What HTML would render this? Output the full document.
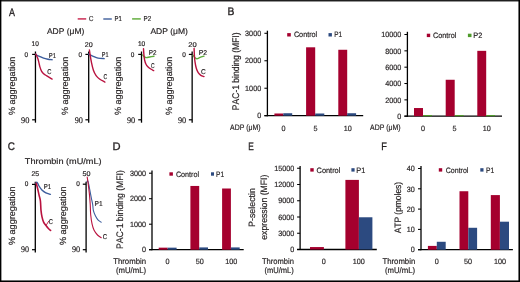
<!DOCTYPE html>
<html><head><meta charset="utf-8"><style>
html,body{margin:0;padding:0;background:#fff;}
svg{display:block;font-family:"Liberation Sans", sans-serif;will-change:transform;text-rendering:geometricPrecision;font-kerning:none;}
text{stroke:#231f20;stroke-width:0.18px;}
</style></head><body>
<svg width="520" height="282" viewBox="0 0 520 282">
<rect width="520" height="282" fill="#fff"/>
<rect x="0.00" y="0.00" width="520.00" height="1.47" fill="#1f1f1f"/>
<rect x="0.00" y="0.00" width="1.38" height="282.00" fill="#000"/>
<rect x="518.45" y="0.00" width="1.55" height="282.00" fill="#000"/>
<rect x="0.00" y="280.45" width="520.00" height="1.55" fill="#000"/>
<text x="8.93" y="15.90" font-size="11" textLength="5.93" lengthAdjust="spacingAndGlyphs" fill="#231f20" style="stroke-width:0.32px">A</text>
<text x="227.50" y="15.40" font-size="11" textLength="6.89" lengthAdjust="spacingAndGlyphs" fill="#231f20" style="stroke-width:0.32px">B</text>
<text x="7.84" y="150.40" font-size="11" textLength="7.18" lengthAdjust="spacingAndGlyphs" fill="#231f20" style="stroke-width:0.32px">C</text>
<text x="112.44" y="150.40" font-size="11" textLength="8.05" lengthAdjust="spacingAndGlyphs" fill="#231f20" style="stroke-width:0.32px">D</text>
<text x="248.37" y="150.10" font-size="11" textLength="5.54" lengthAdjust="spacingAndGlyphs" fill="#231f20" style="stroke-width:0.32px">E</text>
<text x="381.29" y="150.40" font-size="11" textLength="5.62" lengthAdjust="spacingAndGlyphs" fill="#231f20" style="stroke-width:0.32px">F</text>
<line x1="77.70" y1="18.90" x2="86.20" y2="18.90" stroke="#cf3b60" stroke-width="1.6"/>
<text x="89.04" y="21.30" font-size="7.2" textLength="4.45" lengthAdjust="spacingAndGlyphs" fill="#231f20">C</text>
<line x1="103.30" y1="19.00" x2="111.80" y2="19.00" stroke="#5672a8" stroke-width="1.6"/>
<text x="114.56" y="21.20" font-size="7.2" textLength="7.28" lengthAdjust="spacingAndGlyphs" fill="#231f20">P1</text>
<line x1="132.10" y1="18.90" x2="140.80" y2="18.90" stroke="#6fb44d" stroke-width="1.6"/>
<text x="143.54" y="21.10" font-size="7.2" textLength="7.62" lengthAdjust="spacingAndGlyphs" fill="#231f20">P2</text>
<text x="46.93" y="34.00" font-size="8.3" textLength="37.34" lengthAdjust="spacingAndGlyphs" fill="#231f20">ADP (μM)</text>
<text x="150.43" y="33.70" font-size="8.3" textLength="37.54" lengthAdjust="spacingAndGlyphs" fill="#231f20">ADP (μM)</text>
<line x1="35.45" y1="51.50" x2="35.45" y2="122.70" stroke="#000" stroke-width="1.3"/>
<line x1="32.15" y1="54.40" x2="35.45" y2="54.40" stroke="#000" stroke-width="1.2"/>
<line x1="32.15" y1="119.80" x2="35.45" y2="119.80" stroke="#000" stroke-width="1.2"/>
<text x="31.55" y="46.30" font-size="6.8" textLength="7.25" lengthAdjust="spacingAndGlyphs" fill="#231f20">10</text>
<text x="24.60" y="56.60" font-size="6.8" textLength="3.59" lengthAdjust="spacingAndGlyphs" fill="#231f20">0</text>
<text x="20.98" y="122.50" font-size="8.6" textLength="8.39" lengthAdjust="spacingAndGlyphs" fill="#231f20" font-family="Liberation Serif, serif">90</text>
<text x="14.68" y="114.75" font-size="9" textLength="58.31" lengthAdjust="spacingAndGlyphs" fill="#231f20" transform="rotate(-90 15.00 114.75)">% aggregation</text>
<line x1="88.70" y1="51.50" x2="88.70" y2="122.70" stroke="#000" stroke-width="1.3"/>
<line x1="85.40" y1="54.40" x2="88.70" y2="54.40" stroke="#000" stroke-width="1.2"/>
<line x1="85.40" y1="119.80" x2="88.70" y2="119.80" stroke="#000" stroke-width="1.2"/>
<text x="84.89" y="46.50" font-size="6.8" textLength="7.94" lengthAdjust="spacingAndGlyphs" fill="#231f20">20</text>
<text x="78.50" y="56.60" font-size="6.8" textLength="3.59" lengthAdjust="spacingAndGlyphs" fill="#231f20">0</text>
<text x="74.68" y="122.50" font-size="8.6" textLength="8.28" lengthAdjust="spacingAndGlyphs" fill="#231f20" font-family="Liberation Serif, serif">90</text>
<text x="67.98" y="114.75" font-size="9" textLength="58.31" lengthAdjust="spacingAndGlyphs" fill="#231f20" transform="rotate(-90 68.30 114.75)">% aggregation</text>
<line x1="141.50" y1="51.50" x2="141.50" y2="122.70" stroke="#000" stroke-width="1.3"/>
<line x1="138.20" y1="54.40" x2="141.50" y2="54.40" stroke="#000" stroke-width="1.2"/>
<line x1="138.20" y1="119.80" x2="141.50" y2="119.80" stroke="#000" stroke-width="1.2"/>
<text x="137.95" y="46.40" font-size="6.8" textLength="7.36" lengthAdjust="spacingAndGlyphs" fill="#231f20">10</text>
<text x="130.80" y="56.60" font-size="6.8" textLength="3.59" lengthAdjust="spacingAndGlyphs" fill="#231f20">0</text>
<text x="126.98" y="122.50" font-size="8.6" textLength="8.28" lengthAdjust="spacingAndGlyphs" fill="#231f20" font-family="Liberation Serif, serif">90</text>
<text x="120.78" y="114.75" font-size="9" textLength="58.31" lengthAdjust="spacingAndGlyphs" fill="#231f20" transform="rotate(-90 121.10 114.75)">% aggregation</text>
<line x1="192.15" y1="51.50" x2="192.15" y2="122.70" stroke="#000" stroke-width="1.3"/>
<line x1="188.85" y1="54.40" x2="192.15" y2="54.40" stroke="#000" stroke-width="1.2"/>
<line x1="188.85" y1="119.80" x2="192.15" y2="119.80" stroke="#000" stroke-width="1.2"/>
<text x="188.37" y="46.50" font-size="6.8" textLength="8.43" lengthAdjust="spacingAndGlyphs" fill="#231f20">20</text>
<text x="182.20" y="56.60" font-size="6.8" textLength="3.59" lengthAdjust="spacingAndGlyphs" fill="#231f20">0</text>
<text x="177.98" y="122.50" font-size="8.6" textLength="8.28" lengthAdjust="spacingAndGlyphs" fill="#231f20" font-family="Liberation Serif, serif">90</text>
<text x="171.38" y="114.75" font-size="9" textLength="58.31" lengthAdjust="spacingAndGlyphs" fill="#231f20" transform="rotate(-90 171.70 114.75)">% aggregation</text>
<path d="M35.70,54.20 C35.92,54.38 36.38,54.95 37.00,55.30 C37.62,55.65 38.30,55.82 39.40,56.30 C40.50,56.78 42.18,57.72 43.60,58.20 C45.02,58.68 46.48,58.95 47.90,59.20 C49.32,59.45 51.40,59.62 52.10,59.70" fill="none" stroke="#3b5c9c" stroke-width="1.4" stroke-linecap="round" stroke-linejoin="round"/>
<path d="M35.80,54.10 C36.13,54.82 37.28,56.98 37.80,58.40 C38.32,59.82 38.55,61.18 38.90,62.60 C39.25,64.02 39.47,65.48 39.90,66.90 C40.33,68.32 40.88,69.95 41.50,71.10 C42.12,72.25 42.72,73.00 43.60,73.80 C44.48,74.60 45.38,75.02 46.80,75.90 C48.22,76.78 51.22,78.57 52.10,79.10" fill="none" stroke="#b9123f" stroke-width="1.4" stroke-linecap="round" stroke-linejoin="round"/>
<text x="48.87" y="57.80" font-size="7.0" textLength="7.17" lengthAdjust="spacingAndGlyphs" fill="#231f20">P1</text>
<text x="47.15" y="74.30" font-size="7.0" textLength="4.22" lengthAdjust="spacingAndGlyphs" fill="#231f20">C</text>
<path d="M88.80,54.10 C89.08,54.28 89.85,54.87 90.50,55.20 C91.15,55.53 91.43,55.62 92.70,56.10 C93.97,56.58 96.18,57.68 98.10,58.10 C100.02,58.52 103.18,58.52 104.20,58.60" fill="none" stroke="#3b5c9c" stroke-width="1.4" stroke-linecap="round" stroke-linejoin="round"/>
<path d="M89.40,50.00 C89.50,50.68 89.67,52.07 90.00,54.10 C90.33,56.13 90.83,59.50 91.40,62.20 C91.97,64.90 92.62,68.07 93.40,70.30 C94.18,72.53 95.08,74.15 96.10,75.60 C97.12,77.05 98.03,77.92 99.50,79.00 C100.97,80.08 104.00,81.58 104.90,82.10" fill="none" stroke="#b9123f" stroke-width="1.4" stroke-linecap="round" stroke-linejoin="round"/>
<text x="101.80" y="56.60" font-size="7.0" textLength="6.72" lengthAdjust="spacingAndGlyphs" fill="#231f20">P1</text>
<text x="103.49" y="79.30" font-size="7.0" textLength="3.76" lengthAdjust="spacingAndGlyphs" fill="#231f20">C</text>
<path d="M142.60,55.00 C142.90,55.30 143.75,56.37 144.40,56.80 C145.05,57.23 145.62,57.57 146.50,57.60 C147.38,57.63 148.45,57.23 149.70,57.00 C150.95,56.77 153.28,56.33 154.00,56.20" fill="none" stroke="#5dab3b" stroke-width="1.4" stroke-linecap="round" stroke-linejoin="round"/>
<path d="M143.50,48.80 C143.57,49.77 143.72,52.73 143.90,54.60 C144.08,56.47 144.25,58.40 144.60,60.00 C144.95,61.60 145.42,63.05 146.00,64.20 C146.58,65.35 147.30,66.10 148.10,66.90 C148.90,67.70 149.87,68.38 150.80,69.00 C151.73,69.62 153.22,70.33 153.70,70.60" fill="none" stroke="#b9123f" stroke-width="1.4" stroke-linecap="round" stroke-linejoin="round"/>
<text x="148.73" y="54.70" font-size="7.0" textLength="7.74" lengthAdjust="spacingAndGlyphs" fill="#231f20">P2</text>
<text x="150.99" y="67.70" font-size="7.0" textLength="3.65" lengthAdjust="spacingAndGlyphs" fill="#231f20">C</text>
<path d="M193.20,55.30 C193.50,55.72 194.38,57.23 195.00,57.80 C195.62,58.37 196.05,58.77 196.90,58.70 C197.75,58.63 198.92,57.83 200.10,57.40 C201.28,56.97 203.35,56.32 204.00,56.10" fill="none" stroke="#5dab3b" stroke-width="1.4" stroke-linecap="round" stroke-linejoin="round"/>
<path d="M194.10,48.50 C194.15,49.67 194.25,53.27 194.40,55.50 C194.55,57.73 194.68,59.77 195.00,61.90 C195.32,64.03 195.77,66.50 196.30,68.30 C196.83,70.10 197.45,71.53 198.20,72.70 C198.95,73.87 199.83,74.65 200.80,75.30 C201.77,75.95 203.47,76.38 204.00,76.60" fill="none" stroke="#b9123f" stroke-width="1.4" stroke-linecap="round" stroke-linejoin="round"/>
<text x="198.79" y="54.90" font-size="7.0" textLength="8.41" lengthAdjust="spacingAndGlyphs" fill="#231f20">P2</text>
<text x="200.91" y="73.70" font-size="7.0" textLength="4.79" lengthAdjust="spacingAndGlyphs" fill="#231f20">C</text>
<text x="24.84" y="163.70" font-size="8.3" textLength="76.77" lengthAdjust="spacingAndGlyphs" fill="#231f20">Thrombin (mU/mL)</text>
<line x1="35.30" y1="181.70" x2="35.30" y2="252.60" stroke="#000" stroke-width="1.3"/>
<line x1="32.00" y1="184.40" x2="35.30" y2="184.40" stroke="#000" stroke-width="1.2"/>
<line x1="32.00" y1="249.70" x2="35.30" y2="249.70" stroke="#000" stroke-width="1.2"/>
<text x="31.40" y="176.30" font-size="6.8" textLength="7.63" lengthAdjust="spacingAndGlyphs" fill="#231f20">25</text>
<text x="24.80" y="186.40" font-size="6.8" textLength="3.59" lengthAdjust="spacingAndGlyphs" fill="#231f20">0</text>
<text x="21.09" y="252.30" font-size="8.6" textLength="8.07" lengthAdjust="spacingAndGlyphs" fill="#231f20" font-family="Liberation Serif, serif">90</text>
<text x="15.08" y="244.75" font-size="9" textLength="58.72" lengthAdjust="spacingAndGlyphs" fill="#231f20" transform="rotate(-90 15.40 244.75)">% aggregation</text>
<line x1="86.10" y1="181.70" x2="86.10" y2="252.60" stroke="#000" stroke-width="1.3"/>
<line x1="82.80" y1="184.20" x2="86.10" y2="184.20" stroke="#000" stroke-width="1.2"/>
<line x1="82.80" y1="249.70" x2="86.10" y2="249.70" stroke="#000" stroke-width="1.2"/>
<text x="82.46" y="176.30" font-size="6.8" textLength="7.97" lengthAdjust="spacingAndGlyphs" fill="#231f20">50</text>
<text x="76.20" y="186.40" font-size="6.8" textLength="3.59" lengthAdjust="spacingAndGlyphs" fill="#231f20">0</text>
<text x="71.98" y="252.40" font-size="8.6" textLength="8.28" lengthAdjust="spacingAndGlyphs" fill="#231f20" font-family="Liberation Serif, serif">90</text>
<text x="65.38" y="244.75" font-size="9" textLength="58.72" lengthAdjust="spacingAndGlyphs" fill="#231f20" transform="rotate(-90 65.70 244.75)">% aggregation</text>
<path d="M35.80,183.20 C36.03,183.07 36.67,181.93 37.20,182.40 C37.73,182.87 38.22,184.75 39.00,186.00 C39.78,187.25 40.75,188.75 41.90,189.90 C43.05,191.05 44.48,192.15 45.90,192.90 C47.32,193.65 49.65,194.15 50.40,194.40" fill="none" stroke="#3b5c9c" stroke-width="1.4" stroke-linecap="round" stroke-linejoin="round"/>
<path d="M36.20,183.20 C36.42,184.00 37.03,186.05 37.50,188.00 C37.97,189.95 38.52,192.77 39.00,194.90 C39.48,197.03 40.07,198.22 40.40,200.80 C40.73,203.38 40.73,207.73 41.00,210.40 C41.27,213.07 41.57,214.85 42.00,216.80 C42.43,218.75 42.97,220.68 43.60,222.10 C44.23,223.52 45.00,224.23 45.80,225.30 C46.60,226.37 47.60,227.65 48.40,228.50 C49.20,229.35 50.23,230.08 50.60,230.40" fill="none" stroke="#b9123f" stroke-width="1.6" stroke-linecap="round" stroke-linejoin="round"/>
<path d="M44.6,223.6 L46.2,225.2 L48.7,221.2" fill="none" stroke="#b9123f" stroke-width="0.9" stroke-linecap="round" stroke-linejoin="round"/>
<text x="43.75" y="189.00" font-size="7.0" textLength="7.39" lengthAdjust="spacingAndGlyphs" fill="#231f20">P1</text>
<text x="48.75" y="223.90" font-size="7.0" textLength="4.22" lengthAdjust="spacingAndGlyphs" fill="#231f20">C</text>
<path d="M87.00,181.50 C87.12,181.38 87.40,180.30 87.70,180.80 C88.00,181.30 88.38,182.63 88.80,184.50 C89.22,186.37 89.77,189.70 90.20,192.00 C90.63,194.30 90.98,196.18 91.40,198.30 C91.82,200.42 92.37,202.63 92.70,204.70 C93.03,206.77 92.93,208.80 93.40,210.70 C93.87,212.60 94.70,214.52 95.50,216.10 C96.30,217.68 97.25,219.18 98.20,220.20 C99.15,221.22 100.70,221.87 101.20,222.20" fill="none" stroke="#3b5c9c" stroke-width="1.1" stroke-linecap="round" stroke-linejoin="round"/>
<path d="M87.20,177.00 C87.33,177.90 87.73,180.43 88.00,182.40 C88.27,184.37 88.55,186.68 88.80,188.80 C89.05,190.92 89.27,192.57 89.50,195.10 C89.73,197.63 90.00,200.72 90.20,204.00 C90.40,207.28 90.38,211.43 90.70,214.80 C91.02,218.17 91.53,221.62 92.10,224.20 C92.67,226.78 93.20,228.50 94.10,230.30 C95.00,232.10 96.32,233.77 97.50,235.00 C98.68,236.23 100.58,237.25 101.20,237.70" fill="none" stroke="#b9123f" stroke-width="1.1" stroke-linecap="round" stroke-linejoin="round"/>
<text x="94.61" y="205.70" font-size="7.0" textLength="8.06" lengthAdjust="spacingAndGlyphs" fill="#231f20">P1</text>
<text x="102.64" y="239.10" font-size="7.0" textLength="4.45" lengthAdjust="spacingAndGlyphs" fill="#231f20">C</text>
<line x1="267.40" y1="30.70" x2="267.40" y2="116.30" stroke="#000" stroke-width="1.3"/>
<line x1="264.40" y1="115.70" x2="363.20" y2="115.70" stroke="#000" stroke-width="1.3"/>
<line x1="264.40" y1="115.70" x2="267.40" y2="115.70" stroke="#000" stroke-width="1.05"/>
<text x="257.17" y="118.40" font-size="7.6" textLength="4.02" lengthAdjust="spacingAndGlyphs" fill="#231f20">0</text>
<line x1="264.40" y1="88.23" x2="267.40" y2="88.23" stroke="#000" stroke-width="1.05"/>
<text x="245.12" y="90.93" font-size="7.6" textLength="16.06" lengthAdjust="spacingAndGlyphs" fill="#231f20">1000</text>
<line x1="264.40" y1="60.76" x2="267.40" y2="60.76" stroke="#000" stroke-width="1.05"/>
<text x="245.12" y="63.46" font-size="7.6" textLength="16.06" lengthAdjust="spacingAndGlyphs" fill="#231f20">2000</text>
<line x1="264.40" y1="33.29" x2="267.40" y2="33.29" stroke="#000" stroke-width="1.05"/>
<text x="245.12" y="35.99" font-size="7.6" textLength="16.06" lengthAdjust="spacingAndGlyphs" fill="#231f20">3000</text>
<rect x="274.40" y="113.50" width="8.90" height="2.20" fill="#a5002e"/>
<rect x="283.30" y="113.23" width="8.90" height="2.47" fill="#2c4a80"/>
<rect x="306.10" y="47.30" width="9.10" height="68.40" fill="#a5002e"/>
<rect x="315.20" y="113.50" width="9.10" height="2.20" fill="#2c4a80"/>
<rect x="338.30" y="49.77" width="8.90" height="65.93" fill="#a5002e"/>
<rect x="347.20" y="113.23" width="8.90" height="2.47" fill="#2c4a80"/>
<text x="281.49" y="130.90" font-size="7.6" textLength="4.02" lengthAdjust="spacingAndGlyphs" fill="#231f20">0</text>
<text x="313.50" y="130.90" font-size="7.6" textLength="4.02" lengthAdjust="spacingAndGlyphs" fill="#231f20">5</text>
<text x="343.75" y="130.90" font-size="7.6" textLength="8.03" lengthAdjust="spacingAndGlyphs" fill="#231f20">10</text>
<text x="230.04" y="130.30" font-size="8.0" textLength="30.54" lengthAdjust="spacingAndGlyphs" fill="#231f20">ADP (μM)</text>
<text x="238.50" y="109.45" font-size="9.7" textLength="77.73" lengthAdjust="spacingAndGlyphs" fill="#231f20" transform="rotate(-90 239.20 109.45)">PAC-1 binding (MFI)</text>
<rect x="287.20" y="33.10" width="3.60" height="3.40" fill="#a5002e"/>
<text x="293.88" y="37.10" font-size="7.8" textLength="23.35" lengthAdjust="spacingAndGlyphs" fill="#231f20">Control</text>
<rect x="328.50" y="33.10" width="3.40" height="3.40" fill="#2c4a80"/>
<text x="334.22" y="37.10" font-size="7.8" textLength="7.84" lengthAdjust="spacingAndGlyphs" fill="#231f20">P1</text>
<line x1="407.40" y1="31.80" x2="407.40" y2="116.80" stroke="#000" stroke-width="1.3"/>
<line x1="404.40" y1="116.20" x2="502.00" y2="116.20" stroke="#000" stroke-width="1.3"/>
<line x1="404.40" y1="116.20" x2="407.40" y2="116.20" stroke="#000" stroke-width="1.05"/>
<text x="397.27" y="118.90" font-size="7.6" textLength="4.02" lengthAdjust="spacingAndGlyphs" fill="#231f20">0</text>
<line x1="404.40" y1="99.86" x2="407.40" y2="99.86" stroke="#000" stroke-width="1.05"/>
<text x="385.22" y="102.56" font-size="7.6" textLength="16.06" lengthAdjust="spacingAndGlyphs" fill="#231f20">2000</text>
<line x1="404.40" y1="83.52" x2="407.40" y2="83.52" stroke="#000" stroke-width="1.05"/>
<text x="385.22" y="86.22" font-size="7.6" textLength="16.06" lengthAdjust="spacingAndGlyphs" fill="#231f20">4000</text>
<line x1="404.40" y1="67.18" x2="407.40" y2="67.18" stroke="#000" stroke-width="1.05"/>
<text x="385.22" y="69.88" font-size="7.6" textLength="16.06" lengthAdjust="spacingAndGlyphs" fill="#231f20">6000</text>
<line x1="404.40" y1="50.84" x2="407.40" y2="50.84" stroke="#000" stroke-width="1.05"/>
<text x="385.22" y="53.54" font-size="7.6" textLength="16.06" lengthAdjust="spacingAndGlyphs" fill="#231f20">8000</text>
<line x1="404.40" y1="34.50" x2="407.40" y2="34.50" stroke="#000" stroke-width="1.05"/>
<text x="381.20" y="37.20" font-size="7.6" textLength="20.08" lengthAdjust="spacingAndGlyphs" fill="#231f20">10000</text>
<rect x="414.00" y="108.03" width="9.00" height="8.17" fill="#a5002e"/>
<rect x="423.00" y="115.06" width="9.00" height="1.14" fill="#4f9b2b"/>
<rect x="445.70" y="79.76" width="9.00" height="36.44" fill="#a5002e"/>
<rect x="454.70" y="115.06" width="9.00" height="1.14" fill="#4f9b2b"/>
<rect x="477.30" y="50.84" width="8.90" height="65.36" fill="#a5002e"/>
<rect x="486.20" y="115.06" width="8.90" height="1.14" fill="#4f9b2b"/>
<text x="421.04" y="131.30" font-size="7.6" textLength="4.02" lengthAdjust="spacingAndGlyphs" fill="#231f20">0</text>
<text x="452.55" y="131.30" font-size="7.6" textLength="4.02" lengthAdjust="spacingAndGlyphs" fill="#231f20">5</text>
<text x="482.75" y="131.30" font-size="7.6" textLength="8.03" lengthAdjust="spacingAndGlyphs" fill="#231f20">10</text>
<text x="370.04" y="130.30" font-size="8.0" textLength="30.54" lengthAdjust="spacingAndGlyphs" fill="#231f20">ADP (μM)</text>
<rect x="426.80" y="33.70" width="3.40" height="3.40" fill="#a5002e"/>
<text x="433.08" y="37.60" font-size="7.8" textLength="23.35" lengthAdjust="spacingAndGlyphs" fill="#231f20">Control</text>
<rect x="467.90" y="33.70" width="3.60" height="3.40" fill="#4f9b2b"/>
<text x="473.25" y="37.60" font-size="7.8" textLength="8.97" lengthAdjust="spacingAndGlyphs" fill="#231f20">P2</text>
<line x1="152.00" y1="170.50" x2="152.00" y2="250.30" stroke="#000" stroke-width="1.3"/>
<line x1="149.00" y1="249.70" x2="243.70" y2="249.70" stroke="#000" stroke-width="1.3"/>
<line x1="149.00" y1="249.70" x2="152.00" y2="249.70" stroke="#000" stroke-width="1.05"/>
<text x="142.07" y="252.40" font-size="7.6" textLength="4.02" lengthAdjust="spacingAndGlyphs" fill="#231f20">0</text>
<line x1="149.00" y1="224.20" x2="152.00" y2="224.20" stroke="#000" stroke-width="1.05"/>
<text x="130.02" y="226.90" font-size="7.6" textLength="16.06" lengthAdjust="spacingAndGlyphs" fill="#231f20">1000</text>
<line x1="149.00" y1="198.70" x2="152.00" y2="198.70" stroke="#000" stroke-width="1.05"/>
<text x="130.02" y="201.40" font-size="7.6" textLength="16.06" lengthAdjust="spacingAndGlyphs" fill="#231f20">2000</text>
<line x1="149.00" y1="173.20" x2="152.00" y2="173.20" stroke="#000" stroke-width="1.05"/>
<text x="130.02" y="175.90" font-size="7.6" textLength="16.06" lengthAdjust="spacingAndGlyphs" fill="#231f20">3000</text>
<rect x="158.70" y="247.66" width="8.95" height="2.04" fill="#a5002e"/>
<rect x="167.65" y="247.66" width="8.95" height="2.04" fill="#2c4a80"/>
<rect x="190.40" y="185.95" width="8.80" height="63.75" fill="#a5002e"/>
<rect x="199.20" y="247.41" width="8.80" height="2.29" fill="#2c4a80"/>
<rect x="222.10" y="188.50" width="8.80" height="61.20" fill="#a5002e"/>
<rect x="230.90" y="247.41" width="8.80" height="2.29" fill="#2c4a80"/>
<text x="165.49" y="263.80" font-size="7.6" textLength="4.02" lengthAdjust="spacingAndGlyphs" fill="#231f20">0</text>
<text x="195.68" y="263.80" font-size="7.6" textLength="8.03" lengthAdjust="spacingAndGlyphs" fill="#231f20">50</text>
<text x="225.24" y="263.80" font-size="7.6" textLength="12.05" lengthAdjust="spacingAndGlyphs" fill="#231f20">100</text>
<text x="113.17" y="263.80" font-size="8.2" textLength="32.98" lengthAdjust="spacingAndGlyphs" fill="#231f20">Thrombin</text>
<text x="115.97" y="272.90" font-size="8.2" textLength="30.16" lengthAdjust="spacingAndGlyphs" fill="#231f20">(mU/mL)</text>
<text x="122.29" y="248.35" font-size="9.5" textLength="78.95" lengthAdjust="spacingAndGlyphs" fill="#231f20" transform="rotate(-90 123.00 248.35)">PAC-1 binding (MFI)</text>
<rect x="169.40" y="172.30" width="3.50" height="3.40" fill="#a5002e"/>
<text x="175.89" y="176.60" font-size="7.8" textLength="23.14" lengthAdjust="spacingAndGlyphs" fill="#231f20">Control</text>
<rect x="211.00" y="172.30" width="3.00" height="3.40" fill="#2c4a80"/>
<text x="216.01" y="176.60" font-size="7.8" textLength="8.06" lengthAdjust="spacingAndGlyphs" fill="#231f20">P1</text>
<line x1="300.10" y1="166.00" x2="300.10" y2="250.10" stroke="#000" stroke-width="1.3"/>
<line x1="297.10" y1="249.50" x2="376.80" y2="249.50" stroke="#000" stroke-width="1.3"/>
<line x1="297.10" y1="249.50" x2="300.10" y2="249.50" stroke="#000" stroke-width="1.05"/>
<text x="290.27" y="252.20" font-size="7.6" textLength="4.02" lengthAdjust="spacingAndGlyphs" fill="#231f20">0</text>
<line x1="297.10" y1="233.25" x2="300.10" y2="233.25" stroke="#000" stroke-width="1.05"/>
<text x="278.22" y="235.95" font-size="7.6" textLength="16.06" lengthAdjust="spacingAndGlyphs" fill="#231f20">3000</text>
<line x1="297.10" y1="217.00" x2="300.10" y2="217.00" stroke="#000" stroke-width="1.05"/>
<text x="278.22" y="219.70" font-size="7.6" textLength="16.06" lengthAdjust="spacingAndGlyphs" fill="#231f20">6000</text>
<line x1="297.10" y1="200.75" x2="300.10" y2="200.75" stroke="#000" stroke-width="1.05"/>
<text x="278.22" y="203.45" font-size="7.6" textLength="16.06" lengthAdjust="spacingAndGlyphs" fill="#231f20">9000</text>
<line x1="297.10" y1="184.50" x2="300.10" y2="184.50" stroke="#000" stroke-width="1.05"/>
<text x="274.20" y="187.20" font-size="7.6" textLength="20.08" lengthAdjust="spacingAndGlyphs" fill="#231f20">12000</text>
<line x1="297.10" y1="168.25" x2="300.10" y2="168.25" stroke="#000" stroke-width="1.05"/>
<text x="274.20" y="170.95" font-size="7.6" textLength="20.08" lengthAdjust="spacingAndGlyphs" fill="#231f20">15000</text>
<rect x="310.00" y="247.06" width="13.90" height="2.44" fill="#a5002e"/>
<rect x="345.40" y="179.90" width="13.50" height="69.60" fill="#a5002e"/>
<rect x="358.90" y="217.27" width="13.50" height="32.23" fill="#2c4a80"/>
<text x="321.69" y="263.90" font-size="7.6" textLength="4.02" lengthAdjust="spacingAndGlyphs" fill="#231f20">0</text>
<text x="352.69" y="263.90" font-size="7.6" textLength="12.05" lengthAdjust="spacingAndGlyphs" fill="#231f20">100</text>
<text x="261.88" y="263.80" font-size="8.2" textLength="32.06" lengthAdjust="spacingAndGlyphs" fill="#231f20">Thrombin</text>
<text x="264.38" y="272.90" font-size="8.2" textLength="29.44" lengthAdjust="spacingAndGlyphs" fill="#231f20">(mU/mL)</text>
<text x="253.98" y="226.15" font-size="9.2" textLength="38.80" lengthAdjust="spacingAndGlyphs" fill="#231f20" transform="rotate(-90 254.70 226.15)">P-selectin</text>
<text x="266.63" y="239.35" font-size="9.2" textLength="65.06" lengthAdjust="spacingAndGlyphs" fill="#231f20" transform="rotate(-90 267.00 239.35)">expression (MFI)</text>
<rect x="310.30" y="168.20" width="3.40" height="3.40" fill="#a5002e"/>
<text x="316.58" y="172.60" font-size="7.8" textLength="23.77" lengthAdjust="spacingAndGlyphs" fill="#231f20">Control</text>
<rect x="351.40" y="168.20" width="3.20" height="3.40" fill="#2c4a80"/>
<text x="356.35" y="172.60" font-size="7.8" textLength="8.96" lengthAdjust="spacingAndGlyphs" fill="#231f20">P1</text>
<line x1="421.00" y1="166.00" x2="421.00" y2="250.30" stroke="#000" stroke-width="1.3"/>
<line x1="418.00" y1="249.70" x2="512.90" y2="249.70" stroke="#000" stroke-width="1.3"/>
<line x1="418.00" y1="249.70" x2="421.00" y2="249.70" stroke="#000" stroke-width="1.05"/>
<text x="410.87" y="252.40" font-size="7.6" textLength="4.02" lengthAdjust="spacingAndGlyphs" fill="#231f20">0</text>
<line x1="418.00" y1="229.40" x2="421.00" y2="229.40" stroke="#000" stroke-width="1.05"/>
<text x="406.85" y="232.10" font-size="7.6" textLength="8.03" lengthAdjust="spacingAndGlyphs" fill="#231f20">10</text>
<line x1="418.00" y1="209.10" x2="421.00" y2="209.10" stroke="#000" stroke-width="1.05"/>
<text x="406.85" y="211.80" font-size="7.6" textLength="8.03" lengthAdjust="spacingAndGlyphs" fill="#231f20">20</text>
<line x1="418.00" y1="188.80" x2="421.00" y2="188.80" stroke="#000" stroke-width="1.05"/>
<text x="406.85" y="191.50" font-size="7.6" textLength="8.03" lengthAdjust="spacingAndGlyphs" fill="#231f20">30</text>
<line x1="418.00" y1="168.50" x2="421.00" y2="168.50" stroke="#000" stroke-width="1.05"/>
<text x="406.85" y="171.20" font-size="7.6" textLength="8.03" lengthAdjust="spacingAndGlyphs" fill="#231f20">40</text>
<rect x="427.90" y="245.90" width="8.90" height="3.80" fill="#a5002e"/>
<rect x="436.80" y="241.78" width="8.90" height="7.92" fill="#2c4a80"/>
<rect x="459.50" y="191.24" width="8.80" height="58.46" fill="#a5002e"/>
<rect x="468.30" y="227.78" width="8.80" height="21.92" fill="#2c4a80"/>
<rect x="490.80" y="195.09" width="9.10" height="54.61" fill="#a5002e"/>
<rect x="499.90" y="221.69" width="9.10" height="28.01" fill="#2c4a80"/>
<text x="434.74" y="264.00" font-size="7.6" textLength="4.02" lengthAdjust="spacingAndGlyphs" fill="#231f20">0</text>
<text x="463.98" y="264.00" font-size="7.6" textLength="8.03" lengthAdjust="spacingAndGlyphs" fill="#231f20">50</text>
<text x="493.94" y="264.00" font-size="7.6" textLength="12.05" lengthAdjust="spacingAndGlyphs" fill="#231f20">100</text>
<text x="382.38" y="263.80" font-size="8.2" textLength="32.88" lengthAdjust="spacingAndGlyphs" fill="#231f20">Thrombin</text>
<text x="384.97" y="272.90" font-size="8.2" textLength="30.16" lengthAdjust="spacingAndGlyphs" fill="#231f20">(mU/mL)</text>
<text x="400.78" y="233.30" font-size="9.3" textLength="51.39" lengthAdjust="spacingAndGlyphs" fill="#231f20" transform="rotate(-90 400.80 233.30)">ATP (pmoles)</text>
<rect x="438.80" y="168.20" width="3.40" height="3.40" fill="#a5002e"/>
<text x="445.79" y="172.60" font-size="7.8" textLength="22.63" lengthAdjust="spacingAndGlyphs" fill="#231f20">Control</text>
<rect x="480.30" y="168.20" width="3.20" height="3.40" fill="#2c4a80"/>
<text x="486.00" y="172.60" font-size="7.8" textLength="8.17" lengthAdjust="spacingAndGlyphs" fill="#231f20">P1</text>
</svg>
</body></html>
